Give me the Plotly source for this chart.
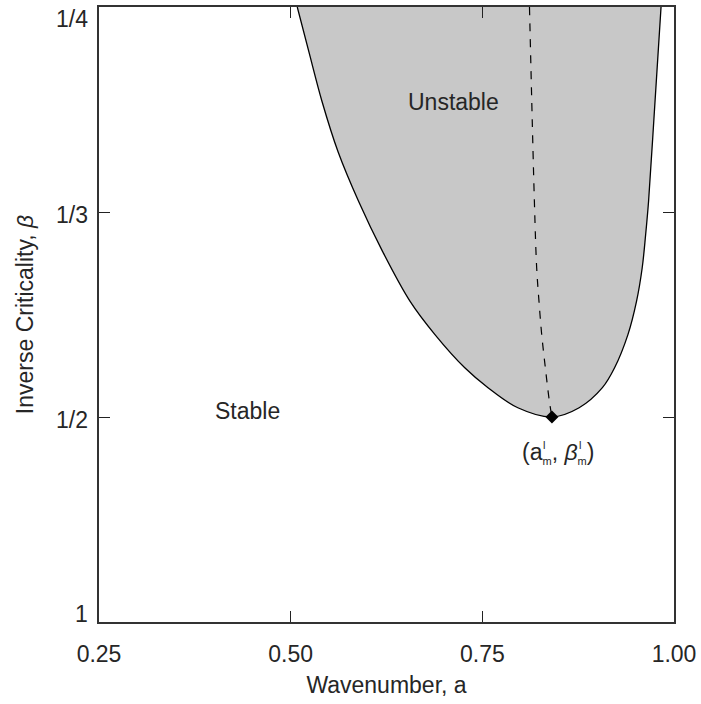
import plotly.graph_objects as go

# Neutral stability curve: wavenumber a vs 1/beta (axis is linear in 1/beta)
curve_a = [0.5086, 0.5238, 0.5410, 0.5618, 0.5887, 0.6198, 0.6558, 0.6882,
           0.7271, 0.7574, 0.7963, 0.8408,
           0.8763, 0.9066, 0.9225, 0.9399, 0.9511, 0.9585, 0.9630,
           0.9668, 0.9744, 0.9831]
curve_inv_beta = [4.000, 3.781, 3.538, 3.294, 3.051, 2.808, 2.564, 2.402,
                  2.240, 2.143, 2.045, 2.000,
                  2.045, 2.143, 2.240, 2.402, 2.564, 2.727, 2.889,
                  3.051, 3.489, 4.000]

# Locus of the most unstable wavenumber
locus_a = [0.8115, 0.8179, 0.8209, 0.8239, 0.8274, 0.8322, 0.8374, 0.8408]
locus_inv_beta = [4.000, 3.051, 2.727, 2.564, 2.404, 2.240, 2.078, 2.000]

# Critical point (a_m, beta_m)
crit_a = [0.8408]
crit_inv_beta = [2.0]

x_ticks = [0.25, 0.50, 0.75, 1.00]
x_tick_text = ["0.25", "0.50", "0.75", "1.00"]
y_ticks = [1, 2, 3, 4]
y_tick_text = ["1", "1/2", "1/3", "1/4"]
y_label_shift = [8.5, -3.3, -3, -11.5]

FONT = "Liberation Sans, Arial, Helvetica, sans-serif"
TXT = "#262626"
FS = 23

fig = go.Figure()

fig.add_trace(go.Scatter(
    x=curve_a, y=curve_inv_beta, mode="lines", fill="toself",
    fillcolor="#c8c8c8",
    line=dict(color="black", width=1.3, shape="spline", smoothing=1.0),
    hoverinfo="skip"))

fig.add_trace(go.Scatter(
    x=locus_a, y=locus_inv_beta, mode="lines",
    line=dict(color="black", width=1.2, dash="8px,8px", shape="spline"),
    hoverinfo="skip"))

fig.add_trace(go.Scatter(
    x=crit_a, y=crit_inv_beta, mode="markers",
    marker=dict(symbol="diamond", size=10, color="black"),
    hoverinfo="skip"))

axis_common = dict(
    ticks="inside", ticklen=11, tickwidth=1.2, tickcolor="#222",
    showline=True, linecolor="#333", linewidth=1.5, mirror="allticks",
    showgrid=False, zeroline=False,
    tickfont=dict(family=FONT, size=FS, color=TXT),
    title_font=dict(family=FONT, size=FS, color=TXT),
)

fig.update_xaxes(range=[0.25, 1.0], tickvals=x_ticks, ticktext=x_tick_text,
                 ticklabelstandoff=11,
                 title=dict(text="Wavenumber, a", standoff=11), **axis_common)
fig.update_yaxes(range=[1, 4], tickvals=y_ticks, showticklabels=False,
                 title=dict(text="Inverse Criticality, <i>β</i>", standoff=57),
                 **axis_common)

annotations = []
for v, t, s in zip(y_ticks, y_tick_text, y_label_shift):
    annotations.append(dict(x=0, xref="paper", y=v, yref="y", text=t,
                            showarrow=False, xanchor="right", yanchor="middle",
                            xshift=-9, yshift=s,
                            font=dict(family=FONT, size=FS, color=TXT)))

small = "<span style='font-size:11px'>m</span>"
annotations += [
    dict(x=0.712, y=3.538, text="Unstable", showarrow=False,
         font=dict(family=FONT, size=FS, color=TXT)),
    dict(x=0.4433, y=2.029, text="Stable", showarrow=False,
         font=dict(family=FONT, size=FS, color=TXT)),
    # label of the critical point, with stacked sub/superscripts
    dict(x=crit_a[0], y=crit_inv_beta[0], xshift=6.5, yshift=-36,
         text=f"(a<sub>{small}</sub>, <i>β</i><sub>{small}</sub>)",
         showarrow=False, font=dict(family=FONT, size=FS, color=TXT)),
    dict(x=crit_a[0], y=crit_inv_beta[0], xshift=-7.5, yshift=-28,
         text="l", showarrow=False, font=dict(family=FONT, size=11, color=TXT)),
    dict(x=crit_a[0], y=crit_inv_beta[0], xshift=28.5, yshift=-28,
         text="l", showarrow=False, font=dict(family=FONT, size=11, color=TXT)),
]

fig.update_layout(
    width=701, height=704,
    margin=dict(l=99, r=24, t=5, b=82),
    plot_bgcolor="white", paper_bgcolor="white",
    showlegend=False, annotations=annotations,
)

fig.write_html("out.html")
